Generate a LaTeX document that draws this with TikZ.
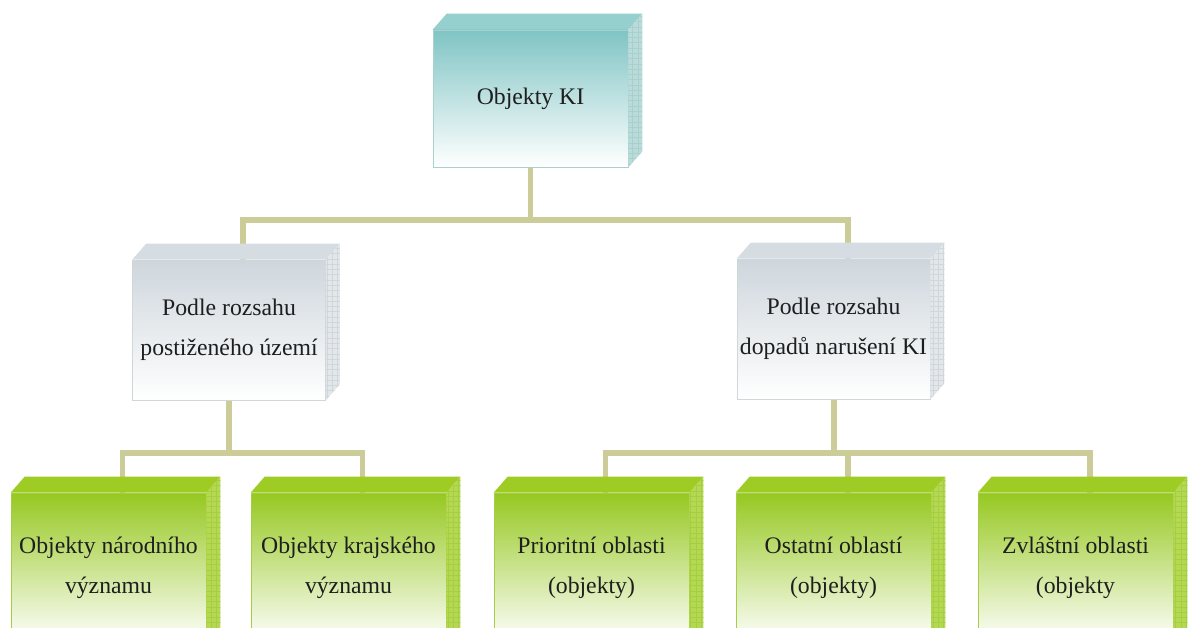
\documentclass[tikz,border=0pt]{standalone}
\usepackage{fontspec}
\setmainfont{Liberation Serif}
\usepackage{xcolor}
\usepackage{tikz}
\usetikzlibrary{positioning, calc, patterns, backgrounds}

\definecolor{linkcol}{RGB}{204,204,153}
\definecolor{txtcol}{RGB}{30,30,30}
\definecolor{tealfront}{RGB}{128,196,196}
\definecolor{tealtop}{RGB}{150,208,206}
\definecolor{tealside}{RGB}{185,220,218}
\definecolor{tealedge}{RGB}{170,208,206}
\definecolor{grayfront}{RGB}{206,214,220}
\definecolor{graytop}{RGB}{214,221,226}
\definecolor{grayside}{RGB}{226,231,234}
\definecolor{grayedge}{RGB}{208,214,218}
\definecolor{greenfront}{RGB}{150,200,32}
\definecolor{greentop}{RGB}{158,204,36}
\definecolor{greenside}{RGB}{180,216,80}
\definecolor{greenedge}{RGB}{165,205,70}

\tikzset{
    link/.style={draw=linkcol, line width=3.4pt},
    cubebox/.style={rectangle, inner sep=0pt, minimum width=3.9cm, minimum height=2.8cm,
        align=center, text=txtcol, font=\fontsize{13.5}{22.7}\selectfont},
    tealbox/.style={cubebox, draw=tealedge, top color=tealfront, bottom color=white, minimum height=2.74cm},
    graybox/.style={cubebox, draw=grayedge, top color=grayfront, bottom color=white, minimum width=3.86cm},
    greenbox/.style={cubebox, draw=greenedge, top color=greenfront, bottom color=white, minimum height=3cm},
}

\begin{document}
\begin{tikzpicture}
    \useasboundingbox (0,0) rectangle (23.82,-12.56);

    % boxes
    \node[tealbox] (top) at (10.61,-1.97) {Objekty KI};

    \node[graybox] (mleft) at (4.58,-6.6) {Podle rozsahu\\postiženého území};
    \node[graybox] (mright) at (16.67,-6.58) {Podle rozsahu\\dopadů narušení KI};

    \node[greenbox] (b1) at (2.17,-11.36) {Objekty národního\\významu};
    \node[greenbox] (b2) at (6.97,-11.36) {Objekty krajského\\významu};
    \node[greenbox] (b3) at (11.83,-11.36) {Prioritní oblasti\\(objekty)};
    \node[greenbox] (b4) at (16.67,-11.36) {Ostatní oblastí\\(objekty)};
    \node[greenbox] (b5) at (21.51,-11.36) {Zvláštní oblasti\\(objekty};

    % top and side faces
    \foreach \n/\c in {top/teal, mleft/gray, mright/gray, b1/green, b2/green, b3/green, b4/green, b5/green} {
            \fill[\c top] (\n.north west) -- ++(0.28,0.32) -- ([shift={(0.28,0.32)}]\n.north east) -- (\n.north east) -- cycle;
            \fill[\c side] (\n.north east) -- ++(0.28,0.32) -- ([shift={(0.28,0.32)}]\n.south east) -- (\n.south east) -- cycle;
            \fill[pattern=grid, pattern color=\c edge] (\n.north east) -- ++(0.28,0.32) -- ([shift={(0.28,0.32)}]\n.south east) -- (\n.south east) -- cycle;
        }

    % connectors
    \coordinate (busA) at (10.61,-4.4);
    \coordinate (busB) at (4.58,-9.06);
    \coordinate (busC) at (16.67,-9.06);
    \begin{pgfonlayer}{background}
        \draw[link] (top.south) -- (busA);
        \draw[link] ([xshift=0.28cm]mleft.north) |- (busA) -| ([xshift=0.28cm]mright.north);

        \draw[link] (mleft.south) -- (busB);
        \draw[link] ([xshift=0.28cm]b1.north) |- (busB) -| ([xshift=0.28cm]b2.north);

        \draw[link] (mright.south) -- (busC);
        \draw[link] ([xshift=0.28cm]b3.north) |- (busC) -| ([xshift=0.28cm]b5.north);
        \draw[link] ([xshift=0.28cm]b4.north) |- (busC);
    \end{pgfonlayer}

\end{tikzpicture}
\end{document}
